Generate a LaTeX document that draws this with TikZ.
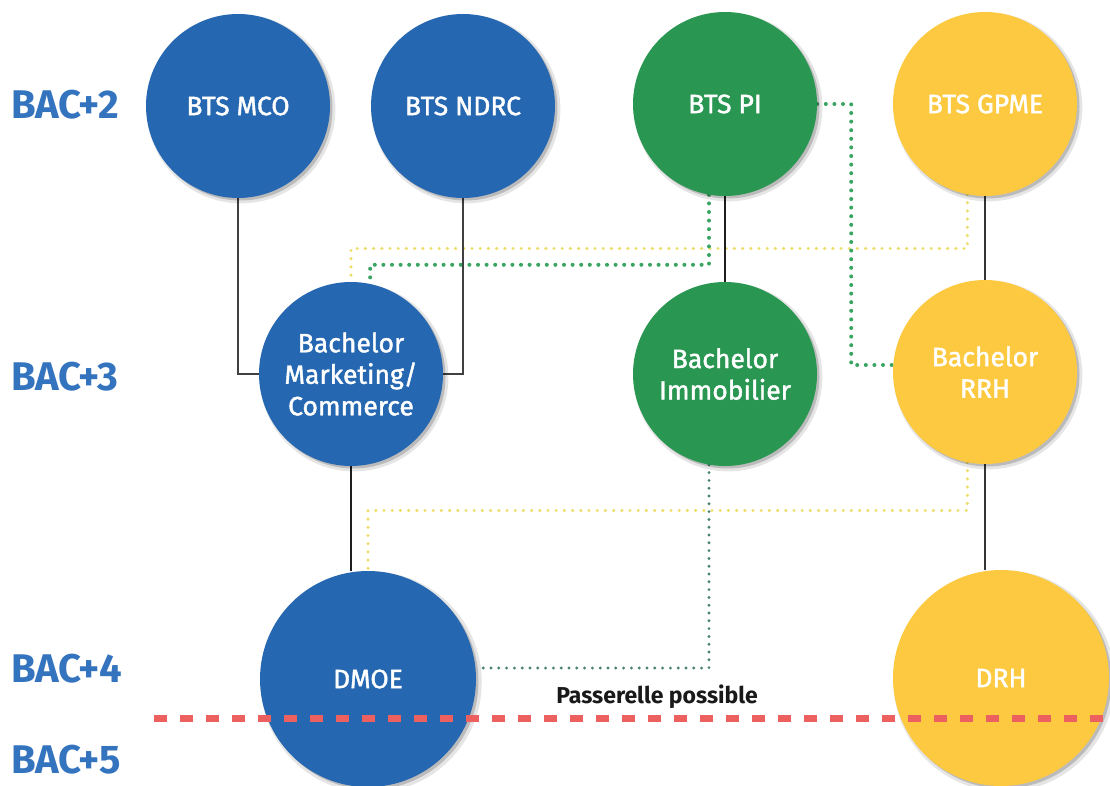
\documentclass[tikz,border=0pt]{standalone}
\usepackage{fontspec}
\setmainfont{Fira Sans}
\newfontfamily\circfont[FakeBold=1.5]{Fira Sans}
\usetikzlibrary{shadows}
\definecolor{cblue}{RGB}{37,103,176}
\definecolor{cgreen}{RGB}{41,150,82}
\definecolor{cyellow}{RGB}{252,201,64}
\definecolor{lblue}{RGB}{52,116,191}
\definecolor{cred}{RGB}{236,96,96}
\definecolor{dgreen}{RGB}{58,165,98}
\definecolor{dyellow}{RGB}{236,222,105}
\definecolor{dteal}{RGB}{72,132,108}
\definecolor{lineblack}{RGB}{30,30,30}
\pgfdeclarelayer{bg}
\pgfdeclarelayer{fg}
\pgfsetlayers{bg,main,fg}
\begin{document}
\begin{tikzpicture}[x=1pt,y=-1pt,
  bubble/.style={circle,inner sep=0pt,minimum size=184pt,text=white,align=center,
    font=\circfont\fontsize{26.5}{31.5}\selectfont,
    general shadow={shadow xshift=3pt,shadow yshift=-3pt,shadow scale=1.025,fill=black,opacity=0.10},
    general shadow={shadow xshift=2.5pt,shadow yshift=-2.5pt,fill=black,opacity=0.18}},
  bigbubble/.style={bubble,minimum size=216pt},
  blue/.style={fill=cblue},
  green/.style={fill=cgreen},
  yellow/.style={fill=cyellow},
  level/.style={text=lblue,anchor=base west,inner sep=0pt,text depth=0pt,font=\fontsize{40}{40}\selectfont\bfseries},
  thinline/.style={draw=lineblack!85,line width=1.5pt},
  thickline/.style={draw=lineblack,line width=2.8pt},
  midline/.style={draw=lineblack!90,line width=2pt},
  gdot/.style={draw=dgreen,line width=4pt,line cap=round,dash pattern=on 0pt off 8.6pt},
  ydot/.style={draw=dyellow,line width=3.4pt,line cap=round,dash pattern=on 0pt off 8.2pt},
  tdot/.style={draw=dteal,line width=3.2pt,line cap=round,dash pattern=on 0pt off 7.8pt},
  reddash/.style={draw=cred,line width=7pt,dash pattern=on 13pt off 13pt}
]
\begin{pgfonlayer}{bg}
\fill[white] (0,0) rectangle (1110,786);
\end{pgfonlayer}
\useasboundingbox (0,0) rectangle (1110,786);

% level labels
\node[level] (b2) at (11,119) {BAC+2};
\node[level] (b3) at (11,390) {BAC+3};
\node[level] (b4) at (11,682) {BAC+4};
\node[level] (b5) at (11,773) {BAC+5};

% circles
\node[bubble,blue] (mco) at (238,106) {BTS MCO};
\node[bubble,blue] (ndrc) at (463,106) {BTS NDRC};
\node[bubble,green] (pi) at (725,104) {BTS PI};
\node[bubble,yellow] (gpme) at (985,104) {BTS GPME};
\node[bubble,blue] (mc) at (351,374) {Bachelor\\Marketing/\\Commerce};
\node[bubble,green] (immo) at (725,374) {Bachelor\\Immobilier};
\node[bubble,yellow] (rrh) at (985,372) {Bachelor\\RRH};
\node[bigbubble,blue] (dmoe) at (368,679) {DMOE};
\node[bigbubble,yellow] (drh) at (1001,678) {DRH};

\begin{pgfonlayer}{bg}
% dotted passerelles
\draw[ydot] (gpme.259) -- ++(0,54) -| (mc.north);
\draw[gdot] (pi.260) -- ++(0,70) -| (mc.78);
\draw[gdot] (pi.east) -- ++(34,0) |- ([yshift=7pt]rrh.west);
\draw[ydot] (rrh.259) -- ++(0,48) -| (dmoe.north);
\draw[tdot] (immo.260) |- ([yshift=11pt]dmoe.east);
% solid links
\draw[thinline] (mco.south) |- (mc.west);
\draw[thinline] (ndrc.south) |- (mc.east);
\draw[thickline] (mc.south) -- (mc.south |- dmoe.north);
\draw[thickline] (pi.south) -- (immo.north);
\draw[midline] (gpme.south) -- (rrh.north);
\draw[midline] (rrh.south) -- (rrh.south |- drh.north);
\end{pgfonlayer}

% passerelle line
\node[font=\fontsize{23}{23}\selectfont\bfseries,text=black!90,anchor=base] (pp) at (657,703) {Passerelle possible};
\coordinate (rl) at (154,718);
\coordinate (rr) at (1110,718);
\begin{pgfonlayer}{fg}
\draw[reddash] (rl) -- (rr);
\end{pgfonlayer}
\end{tikzpicture}
\end{document}
